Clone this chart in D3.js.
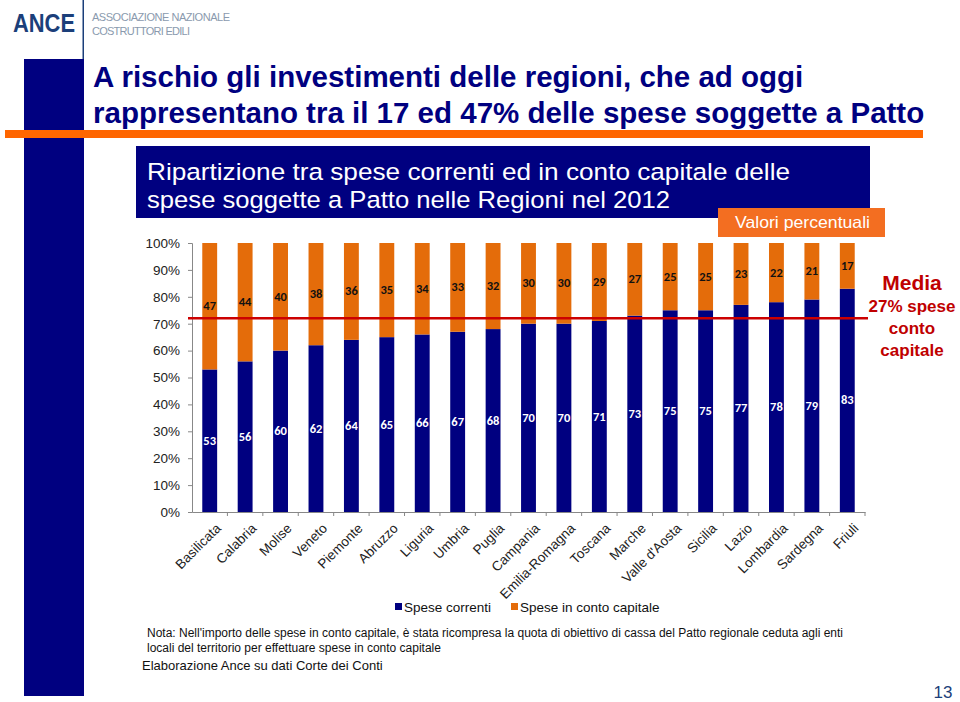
<!DOCTYPE html>
<html><head><meta charset="utf-8">
<script src="https://cdn.jsdelivr.net/npm/d3@7"></script>
<style>body{margin:0;background:#fff}svg{display:block;font-family:"Liberation Sans",Arial,sans-serif}</style>
</head><body><svg id="c" width="960" height="702"></svg>
<script>
const regions = ["Basilicata","Calabria","Molise","Veneto","Piemonte","Abruzzo","Liguria","Umbria","Puglia","Campania","Emilia-Romagna","Toscana","Marche","Valle d'Aosta","Sicilia","Lazio","Lombardia","Sardegna","Friuli"];
const speseCorrenti = [53,56,60,62,64,65,66,67,68,70,70,71,73,75,75,77,78,79,83];
const speseCapitale = [47,44,40,38,36,35,34,33,32,30,30,29,27,25,25,23,22,21,17];
const yTicks = [0,10,20,30,40,50,60,70,80,90,100];
const mediaLine = 72;
const seriesNames = ["Spese correnti","Spese in conto capitale"];
const titleLines = ["A rischio gli investimenti delle regioni, che ad oggi","rappresentano tra il 17 ed 47% delle spese soggette a Patto"];
const subtitleLines = ["Ripartizione tra spese correnti ed in conto capitale delle","spese soggette a Patto nelle Regioni nel 2012"];
const mediaLines = ["Media","27% spese","conto","capitale"];
const noteLines = ["Nota: Nell'importo delle spese in conto capitale, è stata ricompresa la quota di obiettivo di cassa del Patto regionale ceduta agli enti","locali del territorio per effettuare spese in conto capitale"];
const sourceText = "Elaborazione Ance su dati Corte dei Conti";

const BLUE = "#000080", ORANGE = "#E46C0A", RED = "#C00000";
const svg = d3.select("#c");

// header logo
svg.append("text").attr("x",13).attr("y",32).attr("font-size",26).attr("font-weight","bold")
  .attr("fill","#1B3F7A").attr("textLength",62).attr("lengthAdjust","spacingAndGlyphs").text("ANCE");
svg.append("rect").attr("x",82.5).attr("y",0).attr("width",1.5).attr("height",60).attr("fill","#1B3F7A");
svg.append("text").attr("x",92).attr("y",21).attr("font-size",11).attr("fill","#8A9AAE")
  .attr("textLength",138).attr("lengthAdjust","spacing").text("ASSOCIAZIONE NAZIONALE");
svg.append("text").attr("x",92).attr("y",35).attr("font-size",11).attr("fill","#8A9AAE")
  .attr("textLength",98).attr("lengthAdjust","spacing").text("COSTRUTTORI EDILI");

// left blue stripe & orange rule
svg.append("rect").attr("x",24).attr("y",59).attr("width",60).attr("height",637).attr("fill",BLUE);
svg.append("rect").attr("x",5).attr("y",130).attr("width",918).attr("height",8).attr("fill","#FF6600");

// title
svg.selectAll("text.title").data(titleLines).join("text").attr("class","title")
  .attr("x",93).attr("y",(d,i)=>87+i*36).attr("font-size",29.5).attr("font-weight","bold")
  .attr("fill",BLUE).text(d=>d);

// subtitle box
const subLen = [643, 523];
svg.append("rect").attr("x",136).attr("y",146).attr("width",734).attr("height",72).attr("fill",BLUE);
svg.selectAll("text.sub").data(subtitleLines).join("text").attr("class","sub")
  .attr("x",147).attr("y",(d,i)=>180+i*28).attr("font-size",24.5)
  .attr("textLength",(d,i)=>subLen[i]).attr("lengthAdjust","spacingAndGlyphs")
  .attr("fill","#fff").text(d=>d);
svg.append("rect").attr("x",718).attr("y",208).attr("width",167).attr("height",29).attr("fill","#F36E21");
svg.append("text").attr("x",735).attr("y",228).attr("font-size",16.5)
  .attr("fill","#fff").attr("textLength",135).attr("lengthAdjust","spacingAndGlyphs").text("Valori percentuali");

// chart
const x = d3.scaleBand().domain(regions).range([192,865]).paddingInner(0.58).paddingOuter(0.29);
const y = d3.scaleLinear().domain([0,100]).range([512,243]);
const data = regions.map((r,i)=>({r, c:speseCorrenti[i], k:speseCapitale[i]}));

const g = svg.append("g");
g.selectAll("rect.c").data(data).join("rect").attr("x",d=>x(d.r)).attr("width",x.bandwidth())
  .attr("y",d=>y(d.c)).attr("height",d=>y(0)-y(d.c)).attr("fill",BLUE);
g.selectAll("rect.k").data(data).join("rect").attr("x",d=>x(d.r)).attr("width",x.bandwidth())
  .attr("y",d=>y(d.c+d.k)).attr("height",d=>y(d.c)-y(d.c+d.k)).attr("fill",ORANGE);

// y axis
const yAxis = d3.axisLeft(y).tickValues(yTicks).tickFormat(d=>d+"%").tickSize(4).tickPadding(8);
const ya = svg.append("g").attr("transform","translate(192,0)").call(yAxis);
ya.selectAll("text").attr("font-size",13.5).attr("fill","#222").attr("font-family","'Liberation Sans',Arial");
ya.selectAll("line,path").attr("stroke","#888");

// x axis
const xAxis = d3.axisBottom(x).tickSize(4).tickPadding(6).tickSizeOuter(0);
const xa = svg.append("g").attr("transform","translate(0,512)").call(xAxis);
xa.selectAll("line,path").attr("stroke","#888");
xa.selectAll(".tick line").attr("transform",`translate(${x.step()/2},0)`);
xa.selectAll("text").attr("font-size",13.5).attr("fill","#222").attr("font-family","'Liberation Sans',Arial")
  .attr("text-anchor","end").attr("dy",0).attr("transform","translate(5,10) rotate(-45)");

// mean line
svg.append("line").attr("x1",188).attr("x2",868).attr("y1",y(mediaLine)).attr("y2",y(mediaLine))
  .attr("stroke","#CC0000").attr("stroke-width",2.5);

// value labels
g.selectAll("text.lc").data(data).join("text").attr("x",d=>x(d.r)+x.bandwidth()/2).attr("y",d=>y(d.c/2)+4)
  .attr("text-anchor","middle").attr("font-size",12.5).attr("font-weight","bold").attr("fill","#fff")
  .attr("font-family","Carlito,'Open Sans',sans-serif").text(d=>d.c);
g.selectAll("text.lk").data(data).join("text").attr("x",d=>x(d.r)+x.bandwidth()/2).attr("y",d=>y(d.c+d.k/2)+4)
  .attr("text-anchor","middle").attr("font-size",12.5).attr("font-weight","bold").attr("fill","#111")
  .attr("font-family","Carlito,'Open Sans',sans-serif").text(d=>d.k);

// media text
svg.selectAll("text.media").data(mediaLines).join("text").attr("class","media")
  .attr("x",912).attr("y",(d,i)=>i===0?290:290+i*22).attr("text-anchor","middle")
  .attr("font-size",(d,i)=>i===0?21:17).attr("font-weight","bold").attr("fill",RED).text(d=>d);

// legend
const leg = svg.append("g").attr("transform","translate(395,612)");
[BLUE,ORANGE].forEach((col,i)=>{
  const lx = i*116;
  leg.append("rect").attr("x",lx).attr("y",-9).attr("width",7).attr("height",7).attr("fill",col);
  leg.append("text").attr("x",lx+9).attr("y",0).attr("font-size",13.5).attr("fill","#111").text(seriesNames[i]);
});

// notes
svg.selectAll("text.note").data(noteLines).join("text").attr("class","note")
  .attr("x",147).attr("y",(d,i)=>637+i*15).attr("font-size",12).attr("fill","#111").text(d=>d);
svg.append("text").attr("x",142).attr("y",670).attr("font-size",13).attr("fill","#111").text(sourceText);

svg.append("text").attr("x",943).attr("y",698).attr("text-anchor","middle").attr("font-size",17).attr("fill","#1B3F7A").text("13");
</script></body></html>
